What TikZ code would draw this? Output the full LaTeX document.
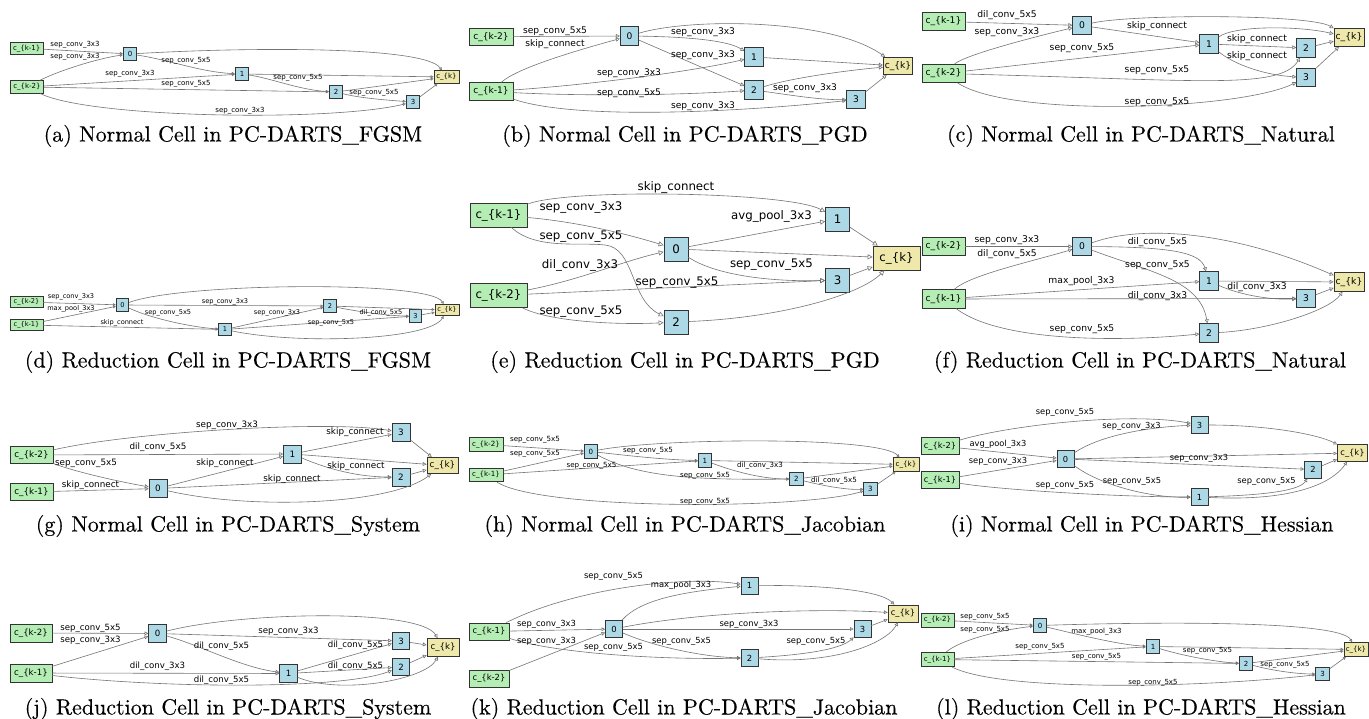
\documentclass[tikz,border=0pt]{standalone}
\usepackage{fontspec}
\newfontfamily\dv{DejaVu Sans}
\newfontfamily\capfont{lmroman10-regular.otf}[FakeBold=0.3]
\usetikzlibrary{arrows.meta}
\definecolor{ingreen}{HTML}{B4EEB4}
\definecolor{midblue}{HTML}{ADD8E6}
\definecolor{outyel}{HTML}{EEE8AA}
\definecolor{edgegray}{HTML}{747474}
\newcommand{\panelset}[6]{%
\tikzset{
 nbase/.style={draw=black!80, line width=0.7pt, inner sep=0pt, font=\dv\fontsize{#1}{#1}\selectfont},
 inbox/.style={nbase, fill=ingreen, minimum width=#3pt, minimum height=#4pt},
 midbox/.style={nbase, fill=midblue, minimum width=#2pt, minimum height=#2pt},
 outbox/.style={nbase, fill=outyel, minimum width=#5pt, minimum height=#4pt},
 elab/.style={inner sep=0pt, font=\dv\fontsize{#1}{#1}\selectfont},
 edg/.style={draw=edgegray, line width=0.6pt, -{Triangle[open, length=#6pt, width=#6pt]}},
}}
\tikzset{captxt/.style={inner sep=0pt, font=\capfont\fontsize{22}{22}\selectfont}}
\begin{document}
\begin{tikzpicture}[x=1pt,y=-1pt]
\path[use as bounding box, fill=white] (0,0) rectangle (1369,719);

% ---------------- (a)
\panelset{7}{13.5}{33}{12.5}{25}{3}
\node[inbox] (akm1) at (26.7,48.3) {c\_\{k-1\}};
\node[inbox] (akm2) at (27,87) {c\_\{k-2\}};
\node[midbox] (a0) at (130,54) {0};
\node[midbox] (a1) at (242,74) {1};
\node[midbox] (a2) at (336,92) {2};
\node[midbox] (a3) at (413,102) {3};
\node[outbox] (ak) at (446.5,77) {c\_\{k\}};
\draw[edg] (akm1) -- (a0);
\draw[edg] (akm2) .. controls (60,70) and (100,58) .. (a0);
\draw[edg] (a0) .. controls (250,47) and (425,46) .. (ak);
\draw[edg] (a0) .. controls (170,60) and (200,72) .. (a1);
\draw[edg] (akm2) -- (a1);
\draw[edg] (akm2) -- (a2);
\draw[edg] (a1) -- (ak);
\draw[edg] (a1) .. controls (270,78) and (300,90) .. (a2);
\draw[edg] (a2) -- (ak);
\draw[edg] (a2) .. controls (360,98) and (385,100) .. (a3);
\draw[edg] (a3) -- (ak);
\draw[edg] (akm2) .. controls (90,118) and (330,122) .. (a3);
\node[elab] (al1) at (75,45) {sep\_conv\_3x3};
\node[elab] (al2) at (75,57) {sep\_conv\_3x3};
\node[elab] (al3) at (186,61) {sep\_conv\_5x5};
\node[elab] (al4) at (130,74) {sep\_conv\_3x3};
\node[elab] (al5) at (186,84) {sep\_conv\_5x5};
\node[elab] (al6) at (298,78) {sep\_conv\_5x5};
\node[elab] (al7) at (374,93) {sep\_conv\_5x5};
\node[elab] (al8) at (240,111) {sep\_conv\_3x3};
\node[captxt] (capa) at (233,136) {(a) Normal Cell in PC-DARTS\_FGSM};

% ---------------- (b)
\panelset{9.1}{18.5}{44}{17.5}{29.5}{4}
\node[inbox] (bkm2) at (491,36.7) {c\_\{k-2\}};
\node[inbox] (bkm1) at (491,91.5) {c\_\{k-1\}};
\node[midbox] (b0) at (629.5,36) {0};
\node[midbox] (b1) at (754,57) {1};
\node[midbox] (b2) at (754,90) {2};
\node[midbox] (b3) at (856,99.5) {3};
\node[outbox] (bk) at (898,66) {c\_\{k\}};
\draw[edg] (bkm2) -- (b0);
\draw[edg] (bkm1) .. controls (515,70) and (560,55) .. (b0);
\draw[edg] (b0) .. controls (690,18) and (830,18) .. (bk);
\draw[edg] (b0) .. controls (700,37) and (730,42) .. (b1);
\draw[edg] (b0) -- (b2);
\draw[edg] (bkm1) .. controls (600,84) and (700,70) .. (b1);
\draw[edg] (bkm1) .. controls (600,97) and (700,94) .. (b2);
\draw[edg] (b1) -- (bk);
\draw[edg] (b2) .. controls (790,78) and (850,70) .. (bk);
\draw[edg] (b2) .. controls (790,95) and (820,100) .. (b3);
\draw[edg] (bkm1) .. controls (580,122) and (760,110) .. (b3);
\draw[edg] (b3) -- (bk);
\node[elab] (bl1) at (555,31) {sep\_conv\_5x5};
\node[elab] (bl2) at (555,44) {skip\_connect};
\node[elab] (bl3) at (703,32) {sep\_conv\_3x3};
\node[elab] (bl4) at (703,55) {sep\_conv\_3x3};
\node[elab] (bl5) at (629,73) {sep\_conv\_3x3};
\node[elab] (bl6) at (629,93) {sep\_conv\_5x5};
\node[elab] (bl7) at (805,88) {sep\_conv\_3x3};
\node[elab] (bl8) at (703,106) {sep\_conv\_3x3};
\node[captxt] (capb) at (685,136) {(b) Normal Cell in PC-DARTS\_PGD};

% ---------------- (c)
\panelset{9.2}{18.5}{43}{18}{30}{4}
\node[inbox] (ckm1) at (943.5,21.5) {c\_\{k-1\}};
\node[inbox] (ckm2) at (943.5,73.5) {c\_\{k-2\}};
\node[midbox] (c0) at (1082,25.5) {0};
\node[midbox] (c1) at (1209,44) {1};
\node[midbox] (c2) at (1306,48) {2};
\node[midbox] (c3) at (1306,77.5) {3};
\node[outbox] (ck) at (1349,37.5) {c\_\{k\}};
\draw[edg] (ckm1) -- (c0);
\draw[edg] (ckm2) .. controls (965,55) and (1030,38) .. (c0);
\draw[edg] (c0) .. controls (1130,14) and (1310,14) .. (ck);
\draw[edg] (c0) -- (c1);
\draw[edg] (ckm2) -- (c1);
\draw[edg] (c1) .. controls (1235,25) and (1300,26) .. (ck);
\draw[edg] (c1) -- (c2);
\draw[edg] (c1) .. controls (1235,65) and (1265,75) .. (c3);
\draw[edg] (ckm2) .. controls (1200,80) and (1280,90) .. (c2);
\draw[edg] (ckm2) .. controls (1010,118) and (1240,110) .. (c3);
\draw[edg] (c2) -- (ck);
\draw[edg] (c3) -- (ck);
\node[elab] (cl1) at (1007,15) {dil\_conv\_5x5};
\node[elab] (cl2) at (1007,32) {sep\_conv\_3x3};
\node[elab] (cl3) at (1157,26) {skip\_connect};
\node[elab] (cl4) at (1082,48) {sep\_conv\_5x5};
\node[elab] (cl5) at (1257,39) {skip\_connect};
\node[elab] (cl6) at (1257,56) {skip\_connect};
\node[elab] (cl7) at (1157,70) {sep\_conv\_5x5};
\node[elab] (cl8) at (1157,102) {sep\_conv\_5x5};
\node[captxt] (capc) at (1141,136) {(c) Normal Cell in PC-DARTS\_Natural};

% ---------------- (d)
\panelset{6.6}{12.5}{33}{11}{24}{2.8}
\node[inbox] (dkm2) at (26.5,302) {c\_\{k-2\}};
\node[inbox] (dkm1) at (26.5,325) {c\_\{k-1\}};
\node[midbox] (d0) at (122.5,305) {0};
\node[midbox] (d1) at (225,329.5) {1};
\node[midbox] (d2) at (330,306) {2};
\node[midbox] (d3) at (415.5,316) {3};
\node[outbox] (dk) at (447,310) {c\_\{k\}};
\draw[edg] (dkm2) -- (d0);
\draw[edg] (dkm1) -- (d0);
\draw[edg] (d0) .. controls (180,283) and (430,280) .. (dk);
\draw[edg] (d0) -- (d2);
\draw[edg] (d0) .. controls (150,318) and (190,327) .. (d1);
\draw[edg] (dkm1) -- (d1);
\draw[edg] (d1) -- (d2);
\draw[edg] (d1) -- (d3);
\draw[edg] (d2) -- (dk);
\draw[edg] (d2) .. controls (360,312) and (390,316) .. (d3);
\draw[edg] (d3) -- (dk);
\draw[edg] (d1) .. controls (300,345) and (430,340) .. (dk);
\node[elab] (dl1) at (71,297) {sep\_conv\_3x3};
\node[elab] (dl2) at (71,309) {max\_pool\_3x3};
\node[elab] (dl3) at (225,302) {sep\_conv\_3x3};
\node[elab] (dl4) at (168,313) {sep\_conv\_5x5};
\node[elab] (dl5) at (122,323) {skip\_connect};
\node[elab] (dl6) at (277,313) {sep\_conv\_3x3};
\node[elab] (dl7) at (381,313) {dil\_conv\_5x5};
\node[elab] (dl8) at (331,323) {sep\_conv\_5x5};
\node[captxt] (capd) at (228,362) {(d) Reduction Cell in PC-DARTS\_FGSM};

% ---------------- (e)
\panelset{11.8}{24}{57}{24}{47}{5}
\node[inbox] (ekm1) at (498.5,215) {c\_\{k-1\}};
\node[inbox] (ekm2) at (498.5,295.5) {c\_\{k-2\}};
\node[midbox] (e0) at (676,249) {0};
\node[midbox] (e1) at (837.5,219) {1};
\node[midbox] (e2) at (676,322) {2};
\node[midbox] (e3) at (837.5,280) {3};
\node[outbox] (ek) at (896.5,258) {c\_\{k\}};
\draw[edg] (ekm1) .. controls (570,188) and (790,192) .. (e1);
\draw[edg] (ekm1) .. controls (580,222) and (630,235) .. (e0);
\draw[edg] (ekm1) .. controls (535,250) and (580,242) .. (605,245) .. controls (635,248) and (630,300) .. (e2);
\draw[edg] (ekm2) .. controls (580,280) and (620,262) .. (e0);
\draw[edg] (e0) -- (e1);
\draw[edg] (e0) -- (ek);
\draw[edg] (e0) .. controls (715,275) and (770,282) .. (e3);
\draw[edg] (ekm2) -- (e3);
\draw[edg] (ekm2) .. controls (550,322) and (620,325) .. (e2);
\draw[edg] (e1) -- (ek);
\draw[edg] (e3) -- (ek);
\draw[edg] (e2) .. controls (780,318) and (860,295) .. (ek);
\node[elab] (el1) at (676,187) {skip\_connect};
\node[elab] (el2) at (581,208) {sep\_conv\_3x3};
\node[elab] (el3) at (581,237) {sep\_conv\_5x5};
\node[elab] (el4) at (580,265) {dil\_conv\_3x3};
\node[elab] (el5) at (771.5,216) {avg\_pool\_3x3};
\node[elab] (el6) at (771.5,265) {sep\_conv\_5x5};
\node[elab] (el7) at (677,283) {sep\_conv\_5x5};
\node[elab] (el8) at (581,312) {sep\_conv\_5x5};
\node[captxt] (cape) at (685,362) {(e) Reduction Cell in PC-DARTS\_PGD};

% ---------------- (f)
\panelset{9.2}{18.5}{43}{18.5}{30}{4}
\node[inbox] (fkm2) at (943.5,246.5) {c\_\{k-2\}};
\node[inbox] (fkm1) at (943.5,299) {c\_\{k-1\}};
\node[midbox] (f0) at (1082,246.5) {0};
\node[midbox] (f1) at (1209,281) {1};
\node[midbox] (f2) at (1209,333) {2};
\node[midbox] (f3) at (1306,298.5) {3};
\node[outbox] (fk) at (1349,282) {c\_\{k\}};
\draw[edg] (fkm2) -- (f0);
\draw[edg] (fkm1) .. controls (970,275) and (1030,262) .. (f0);
\draw[edg] (f0) .. controls (1140,225) and (1230,230) .. (fk);
\draw[edg] (f0) .. controls (1170,247) and (1200,252) .. (f1);
\draw[edg] (f0) .. controls (1150,272) and (1200,280) .. (f2);
\draw[edg] (fkm1) -- (f1);
\draw[edg] (fkm1) -- (f3);
\draw[edg] (f1) -- (fk);
\draw[edg] (f1) .. controls (1240,295) and (1270,300) .. (f3);
\draw[edg] (f3) -- (fk);
\draw[edg] (fkm1) .. controls (1000,342) and (1120,342) .. (f2);
\draw[edg] (f2) .. controls (1270,330) and (1330,310) .. (fk);
\node[elab] (fl1) at (1007,240) {sep\_conv\_3x3};
\node[elab] (fl2) at (1007,254) {dil\_conv\_5x5};
\node[elab] (fl3) at (1157.5,242) {dil\_conv\_5x5};
\node[elab] (fl4) at (1157.5,265.5) {sep\_conv\_5x5};
\node[elab] (fl5) at (1081.5,281) {max\_pool\_3x3};
\node[elab] (fl6) at (1157.5,296) {dil\_conv\_3x3};
\node[elab] (fl7) at (1257,287) {dil\_conv\_3x3};
\node[elab] (fl8) at (1082,329) {sep\_conv\_5x5};
\node[captxt] (capf) at (1140,362) {(f) Reduction Cell in PC-DARTS\_Natural};

% ---------------- (g)
\panelset{8.8}{18}{43}{16.5}{31}{3.8}
\node[inbox] (gkm2) at (31.5,455) {c\_\{k-2\}};
\node[inbox] (gkm1) at (31.5,492) {c\_\{k-1\}};
\node[midbox] (g0) at (158,488.5) {0};
\node[midbox] (g1) at (292.5,454) {1};
\node[midbox] (g2) at (401,477) {2};
\node[midbox] (g3) at (401,432.5) {3};
\node[outbox] (gk) at (442.5,465.5) {c\_\{k\}};
\draw[edg] (gkm2) .. controls (130,432) and (330,420) .. (g3);
\draw[edg] (gkm2) -- (g1);
\draw[edg] (gkm2) .. controls (70,470) and (110,480) .. (g0);
\draw[edg] (gkm1) -- (g0);
\draw[edg] (g0) -- (g1);
\draw[edg] (g1) -- (g3);
\draw[edg] (g1) -- (gk);
\draw[edg] (g1) .. controls (330,470) and (360,477) .. (g2);
\draw[edg] (g0) -- (g2);
\draw[edg] (g0) .. controls (250,510) and (390,505) .. (gk);
\draw[edg] (g3) -- (gk);
\draw[edg] (g2) -- (gk);
\node[elab] (gl1) at (227,425) {sep\_conv\_3x3};
\node[elab] (gl2) at (158,447) {dil\_conv\_5x5};
\node[elab] (gl3) at (86,463) {sep\_conv\_5x5};
\node[elab] (gl4) at (90.5,485) {skip\_connect};
\node[elab] (gl5) at (225,463) {skip\_connect};
\node[elab] (gl6) at (355,432) {skip\_connect};
\node[elab] (gl7) at (356,466) {skip\_connect};
\node[elab] (gl8) at (292,479) {skip\_connect};
\node[captxt] (capg) at (228,526) {(g) Normal Cell in PC-DARTS\_System};

% ---------------- (h)
\panelset{7.1}{13.5}{34}{13.5}{26}{3}
\node[inbox] (hkm2) at (486,444.5) {c\_\{k-2\}};
\node[inbox] (hkm1) at (486,475) {c\_\{k-1\}};
\node[midbox] (h0) at (591,451.5) {0};
\node[midbox] (h1) at (705,460.5) {1};
\node[midbox] (h2) at (796.5,479) {2};
\node[midbox] (h3) at (870.5,489) {3};
\node[outbox] (hk) at (906,464.5) {c\_\{k\}};
\draw[edg] (hkm2) -- (h0);
\draw[edg] (hkm1) -- (h0);
\draw[edg] (h0) .. controls (660,438) and (880,436) .. (hk);
\draw[edg] (h0) .. controls (640,457) and (670,460) .. (h1);
\draw[edg] (hkm1) -- (h1);
\draw[edg] (h1) -- (hk);
\draw[edg] (h1) .. controls (730,470) and (760,479) .. (h2);
\draw[edg] (h0) .. controls (640,478) and (700,480) .. (h2);
\draw[edg] (h2) -- (hk);
\draw[edg] (h2) .. controls (820,485) and (845,490) .. (h3);
\draw[edg] (h3) -- (hk);
\draw[edg] (hkm1) .. controls (540,510) and (800,510) .. (h3);
\node[elab] (hl1) at (535,440) {sep\_conv\_5x5};
\node[elab] (hl2) at (535,454) {sep\_conv\_5x5};
\node[elab] (hl3) at (648,451) {sep\_conv\_5x5};
\node[elab] (hl4) at (591.5,466) {sep\_conv\_5x5};
\node[elab] (hl5) at (760,466) {dil\_conv\_3x3};
\node[elab] (hl6) at (705,476) {sep\_conv\_5x5};
\node[elab] (hl7) at (834,481) {dil\_conv\_5x5};
\node[elab] (hl8) at (705,502) {sep\_conv\_5x5};
\node[captxt] (caph) at (685,526) {(h) Normal Cell in PC-DARTS\_Jacobian};

% ---------------- (i)
\panelset{8.3}{17}{38}{16.5}{30}{3.6}
\node[inbox] (ikm2) at (940,446) {c\_\{k-2\}};
\node[inbox] (ikm1) at (940,480) {c\_\{k-1\}};
\node[midbox] (i0) at (1065.5,459) {0};
\node[midbox] (i1) at (1199.5,497) {1};
\node[midbox] (i2) at (1313,469.5) {2};
\node[midbox] (i3) at (1199.5,425) {3};
\node[outbox] (ik) at (1352.5,453) {c\_\{k\}};
\draw[edg] (ikm2) .. controls (1010,425) and (1130,412) .. (i3);
\draw[edg] (i0) .. controls (1100,435) and (1150,427) .. (i3);
\draw[edg] (ikm2) -- (i0);
\draw[edg] (ikm1) -- (i0);
\draw[edg] (i0) -- (ik);
\draw[edg] (i0) -- (i2);
\draw[edg] (i0) .. controls (1100,485) and (1150,498) .. (i1);
\draw[edg] (ikm1) .. controls (1000,490) and (1120,497) .. (i1);
\draw[edg] (i1) .. controls (1270,495) and (1300,490) .. (i2);
\draw[edg] (i1) .. controls (1300,502) and (1335,480) .. (ik);
\draw[edg] (i3) .. controls (1270,425) and (1320,435) .. (ik);
\draw[edg] (i2) -- (ik);
\node[elab] (il1) at (1065,412) {sep\_conv\_5x5};
\node[elab] (il2) at (1131.5,426) {sep\_conv\_3x3};
\node[elab] (il3) at (998,444) {avg\_pool\_3x3};
\node[elab] (il4) at (998,461) {sep\_conv\_3x3};
\node[elab] (il5) at (1199,458) {sep\_conv\_3x3};
\node[elab] (il6) at (1132,481) {sep\_conv\_5x5};
\node[elab] (il7) at (1065,485) {sep\_conv\_5x5};
\node[elab] (il8) at (1266.5,481) {sep\_conv\_5x5};
\node[captxt] (capi) at (1142,526) {(i) Normal Cell in PC-DARTS\_Hessian};

% ---------------- (j)
\panelset{8.6}{17.5}{42}{18}{32}{3.8}
\node[inbox] (jkm2) at (31,633) {c\_\{k-2\}};
\node[inbox] (jkm1) at (31,673) {c\_\{k-1\}};
\node[midbox] (j0) at (157.5,633.5) {0};
\node[midbox] (j1) at (288.5,673.5) {1};
\node[midbox] (j2) at (401,667) {2};
\node[midbox] (j3) at (401,641) {3};
\node[outbox] (jk) at (443,647.5) {c\_\{k\}};
\draw[edg] (jkm2) -- (j0);
\draw[edg] (jkm1) -- (j0);
\draw[edg] (j0) .. controls (240,612) and (420,608) .. (jk);
\draw[edg] (j0) -- (j3);
\draw[edg] (j0) .. controls (200,645) and (240,667) .. (j1);
\draw[edg] (j1) -- (j3);
\draw[edg] (jkm1) -- (j1);
\draw[edg] (j1) -- (j2);
\draw[edg] (jkm1) .. controls (160,688) and (340,690) .. (j2);
\draw[edg] (j1) .. controls (340,695) and (425,680) .. (jk);
\draw[edg] (j3) -- (jk);
\draw[edg] (j2) -- (jk);
\node[elab] (jl1) at (90.5,628) {sep\_conv\_5x5};
\node[elab] (jl2) at (90.5,640) {sep\_conv\_3x3};
\node[elab] (jl3) at (288.5,631) {sep\_conv\_3x3};
\node[elab] (jl4) at (221.5,646) {dil\_conv\_5x5};
\node[elab] (jl5) at (355.5,645) {dil\_conv\_5x5};
\node[elab] (jl6) at (157.5,666) {dil\_conv\_3x3};
\node[elab] (jl7) at (355.5,666) {dil\_conv\_5x5};
\node[elab] (jl8) at (221.5,680) {dil\_conv\_5x5};
\node[captxt] (capj) at (228,709) {(j) Reduction Cell in PC-DARTS\_System};

% ---------------- (k)
\panelset{8.4}{17}{40}{17}{30}{3.6}
\node[inbox] (kkm1) at (489,631.5) {c\_\{k-1\}};
\node[inbox] (kkm2) at (489,678.5) {c\_\{k-2\}};
\node[midbox] (k0) at (614,629) {0};
\node[midbox] (k1) at (749.5,585.5) {1};
\node[midbox] (k2) at (749.5,658) {2};
\node[midbox] (k3) at (862.5,629) {3};
\node[outbox] (kk) at (903,613.5) {c\_\{k\}};
\draw[edg] (kkm1) .. controls (570,590) and (680,575) .. (k1);
\draw[edg] (k0) .. controls (640,600) and (680,592) .. (k1);
\draw[edg] (k0) .. controls (700,612) and (820,608) .. (kk);
\draw[edg] (kkm1) -- (k0);
\draw[edg] (k0) -- (k3);
\draw[edg] (kkm1) .. controls (550,652) and (650,660) .. (k2);
\draw[edg] (kkm2) -- (k0);
\draw[edg] (k0) .. controls (650,645) and (700,657) .. (k2);
\draw[edg] (k2) .. controls (800,655) and (840,650) .. (k3);
\draw[edg] (k2) .. controls (830,665) and (885,645) .. (kk);
\draw[edg] (k1) .. controls (820,585) and (880,590) .. (kk);
\draw[edg] (k3) -- (kk);
\node[elab] (kl1) at (613.5,576) {sep\_conv\_5x5};
\node[elab] (kl2) at (681,585) {max\_pool\_3x3};
\node[elab] (kl3) at (546.5,624) {sep\_conv\_3x3};
\node[elab] (kl4) at (749,624) {sep\_conv\_3x3};
\node[elab] (kl5) at (546.5,641) {sep\_conv\_3x3};
\node[elab] (kl6) at (613.5,647) {sep\_conv\_5x5};
\node[elab] (kl7) at (681.5,641) {sep\_conv\_5x5};
\node[elab] (kl8) at (816,641) {sep\_conv\_5x5};
\node[captxt] (capk) at (684,709) {(k) Reduction Cell in PC-DARTS\_Jacobian};

% ---------------- (l)
\panelset{7}{13.5}{33}{14}{24}{3}
\node[inbox] (lkm2) at (937.5,620) {c\_\{k-2\}};
\node[inbox] (lkm1) at (937.5,659.5) {c\_\{k-1\}};
\node[midbox] (l0) at (1040,625.5) {0};
\node[midbox] (l1) at (1153,646.5) {1};
\node[midbox] (l2) at (1246,663.5) {2};
\node[midbox] (l3) at (1322.5,674) {3};
\node[outbox] (lk) at (1356,649.5) {c\_\{k\}};
\draw[edg] (lkm2) -- (l0);
\draw[edg] (lkm1) .. controls (960,640) and (1000,630) .. (l0);
\draw[edg] (l0) .. controls (1150,622) and (1340,620) .. (lk);
\draw[edg] (l0) .. controls (1080,635) and (1120,645) .. (l1);
\draw[edg] (lkm1) -- (l1);
\draw[edg] (lkm1) -- (l2);
\draw[edg] (l1) -- (lk);
\draw[edg] (l1) .. controls (1180,655) and (1215,662) .. (l2);
\draw[edg] (l2) -- (lk);
\draw[edg] (l2) .. controls (1270,670) and (1295,674) .. (l3);
\draw[edg] (l3) -- (lk);
\draw[edg] (lkm1) .. controls (1000,692) and (1200,688) .. (l3);
\node[elab] (ll1) at (985,617) {sep\_conv\_5x5};
\node[elab] (ll2) at (985,629.5) {sep\_conv\_5x5};
\node[elab] (ll3) at (1096.5,632) {max\_pool\_3x3};
\node[elab] (ll4) at (1040,647) {sep\_conv\_5x5};
\node[elab] (ll5) at (1096.5,657) {sep\_conv\_5x5};
\node[elab] (ll6) at (1207.5,651) {sep\_conv\_5x5};
\node[elab] (ll7) at (1285,665) {sep\_conv\_5x5};
\node[elab] (ll8) at (1153,683) {sep\_conv\_5x5};
\node[captxt] (capl) at (1141,709) {(l) Reduction Cell in PC-DARTS\_Hessian};
\end{tikzpicture}
\end{document}
